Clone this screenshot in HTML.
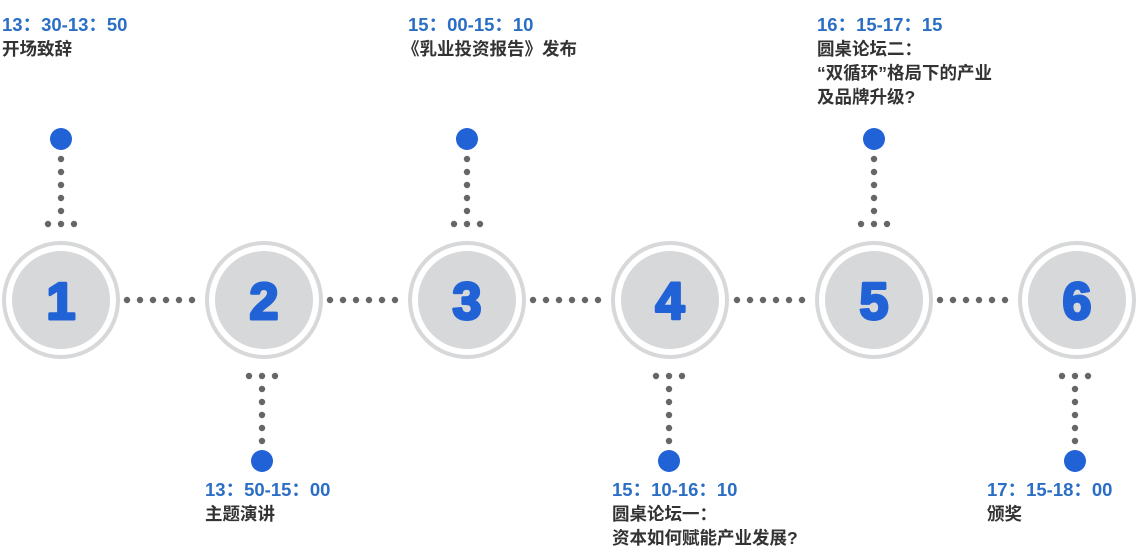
<!DOCTYPE html>
<html><head><meta charset="utf-8"><style>
html,body{margin:0;padding:0;background:#fff;width:1136px;height:560px;overflow:hidden}
svg{display:block}
.t{font-family:"Liberation Sans","Noto Sans CJK SC",sans-serif;font-weight:bold;font-size:18.5px;fill:#2b6ec6}
.l{font-family:"Liberation Sans","Noto Sans CJK SC",sans-serif;font-weight:bold;font-size:17.5px;fill:#333}
.n{font-family:"Liberation Sans",sans-serif;font-weight:900;font-size:52px;fill:#2162d6;stroke:#2162d6;stroke-width:3;stroke-linejoin:round}
</style></head><body>
<svg width="1136" height="560" xmlns="http://www.w3.org/2000/svg">
<g fill="#d7d8da" stroke="none">
<circle cx="61" cy="300" r="49"/><circle cx="264" cy="300" r="49"/><circle cx="467" cy="300" r="49"/>
<circle cx="670" cy="300" r="49"/><circle cx="874" cy="300" r="49"/><circle cx="1077" cy="300" r="49"/>
</g>
<g fill="none" stroke="#d7d8da" stroke-width="4">
<circle cx="61" cy="300" r="57"/><circle cx="264" cy="300" r="57"/><circle cx="467" cy="300" r="57"/>
<circle cx="670" cy="300" r="57"/><circle cx="874" cy="300" r="57"/><circle cx="1077" cy="300" r="57"/>
</g>
<g text-anchor="middle">
<text x="61" y="319" class="n">1</text><text x="264" y="319" class="n">2</text><text x="467" y="319" class="n">3</text>
<text x="670" y="319" class="n">4</text><text x="874" y="319" class="n">5</text><text x="1077" y="319" class="n">6</text>
</g>
<g fill="#666">
<g id="h"><circle cx="127" cy="300" r="3.2"/><circle cx="140" cy="300" r="3.2"/><circle cx="153" cy="300" r="3.2"/><circle cx="166" cy="300" r="3.2"/><circle cx="179" cy="300" r="3.2"/><circle cx="192" cy="300" r="3.2"/></g>
<use href="#h" x="203"/><use href="#h" x="406"/><use href="#h" x="610"/><use href="#h" x="813"/>
</g>
<g id="top">
<circle cx="61" cy="139" r="11" fill="#2162d6"/>
<g fill="#666"><circle cx="61" cy="159" r="3.2"/><circle cx="61" cy="172" r="3.2"/><circle cx="61" cy="185" r="3.2"/><circle cx="61" cy="198" r="3.2"/><circle cx="61" cy="211" r="3.2"/>
<circle cx="48" cy="224" r="3.2"/><circle cx="61" cy="224" r="3.2"/><circle cx="74" cy="224" r="3.2"/></g>
</g>
<use href="#top" x="406"/><use href="#top" x="813"/>
<g id="bot">
<circle cx="262" cy="461" r="11" fill="#2162d6"/>
<g fill="#666"><circle cx="262" cy="441" r="3.2"/><circle cx="262" cy="428" r="3.2"/><circle cx="262" cy="415" r="3.2"/><circle cx="262" cy="402" r="3.2"/><circle cx="262" cy="389" r="3.2"/>
<circle cx="249" cy="376" r="3.2"/><circle cx="262" cy="376" r="3.2"/><circle cx="275" cy="376" r="3.2"/></g>
</g>
<use href="#bot" x="407"/><use href="#bot" x="813"/>
<text class="t" x="2" y="31">13：30-13：50</text>
<text class="l" x="2" y="55">开场致辞</text>
<text class="t" x="408" y="31">15：00-15：10</text>
<text class="l" x="402" y="55">《乳业投资报告》发布</text>
<text class="t" x="817" y="31">16：15-17：15</text>
<text class="l" x="817" y="55">圆桌论坛二：</text>
<text class="l" x="817" y="79">“双循环”格局下的产业</text>
<text class="l" x="817" y="103">及品牌升级?</text>
<text class="t" x="205" y="496">13：50-15：00</text>
<text class="l" x="205" y="520">主题演讲</text>
<text class="t" x="612" y="496">15：10-16：10</text>
<text class="l" x="612" y="520">圆桌论坛一：</text>
<text class="l" x="612" y="544">资本如何赋能产业发展?</text>
<text class="t" x="987" y="496">17：15-18：00</text>
<text class="l" x="987" y="520">颁奖</text>
</svg>
</body></html>
